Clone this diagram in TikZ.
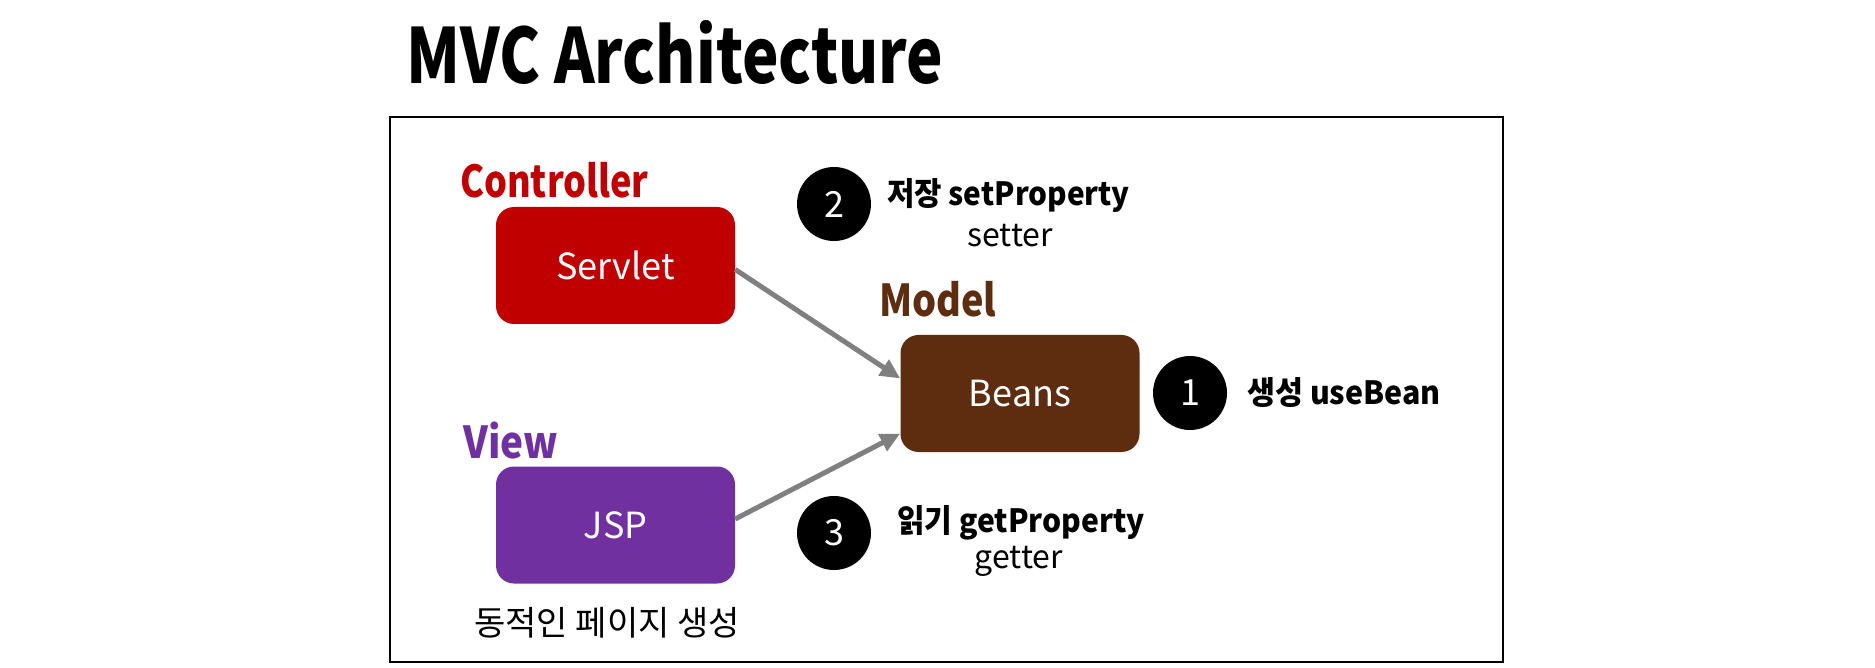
\documentclass[tikz,border=0pt]{standalone}
\usepackage{fontspec}
\usepackage{graphicx}
\setmainfont{Noto Sans CJK KR}
\usetikzlibrary{arrows.meta}
\definecolor{ctrlred}{HTML}{C00000}
\definecolor{modelbrown}{HTML}{5E2C0F}
\definecolor{viewpurple}{HTML}{7030A0}
\definecolor{arrowgray}{HTML}{808080}
\newcommand{\narrow}[2]{\scalebox{#1}[1]{#2}}
\tikzset{
  compbox/.style={rounded corners=18pt, minimum width=239pt, minimum height=117pt, text=white, inner sep=0pt, font=\fontsize{36}{38}\selectfont},
  rolelabel/.style={anchor=base west, inner sep=0pt, font=\fontsize{44}{46}\selectfont\bfseries},
  numdot/.style={circle, fill=black, minimum size=74pt, inner sep=0pt, text=white, font=\fontsize{36}{38}\selectfont},
  boldnote/.style={inner sep=0pt, font=\fontsize{32}{34}\selectfont\bfseries},
  plainnote/.style={inner sep=0pt, font=\fontsize{32}{34}\selectfont},
  flow/.style={arrowgray, line width=5pt, -{Triangle[length=20pt,width=18pt]}}
}
\begin{document}
\begin{tikzpicture}[x=1pt,y=-1pt]
\useasboundingbox (0,0) rectangle (1875,668);
\fill[white] (0,0) rectangle (1875,668);
\node[anchor=base west, inner sep=0pt, font=\fontsize{76}{78}\selectfont\bfseries] (title) at (406,84) {\narrow{0.81}{MVC Architecture}};
\node[draw, line width=2.4pt, minimum width=1113pt, minimum height=545pt, inner sep=0pt, anchor=north west] (frame) at (389,116) {};
% components
\node[compbox, fill=ctrlred] (servlet) at (615.5,265.5) {Servlet};
\node[compbox, fill=modelbrown] (beans) at (1020,393.5) {Beans};
\node[compbox, fill=viewpurple] (jsp) at (615.5,525) {JSP};
% role labels
\node[rolelabel, text=ctrlred] (ctrllabel) at (460,198) {\narrow{0.82}{Controller}};
\node[rolelabel, text=modelbrown] (modellabel) at (879,317) {\narrow{0.86}{Model}};
\node[rolelabel, text=viewpurple] (viewlabel) at (463,458) {\narrow{0.88}{View}};
% numbered steps
\node[numdot] (n2) at (834,204) {2};
\node[numdot] (n1) at (1190,393) {1};
\node[numdot] (n3) at (834,533) {3};
\node[boldnote, anchor=west] (setp) at (887,195) {\narrow{0.93}{저장 setProperty}};
\node[plainnote] (setter) at (1010,236) {setter};
\node[boldnote, anchor=west] (useb) at (1247,393) {\narrow{0.95}{생성 useBean}};
\node[boldnote, anchor=west] (getp) at (897,523) {\narrow{0.94}{읽기 getProperty}};
\node[plainnote] (getter) at (1019,561) {getter};
\node[plainnote, font=\fontsize{34}{36}\selectfont] (dyn) at (607,623) {동적인 페이지 생성};
% arrows
\draw[flow] ([yshift=-4pt]servlet.east) -- ([yshift=15pt]beans.west);
\draw[flow] ([yshift=6pt]jsp.east) -- ([yshift=-40pt]beans.west);
\end{tikzpicture}
\end{document}
